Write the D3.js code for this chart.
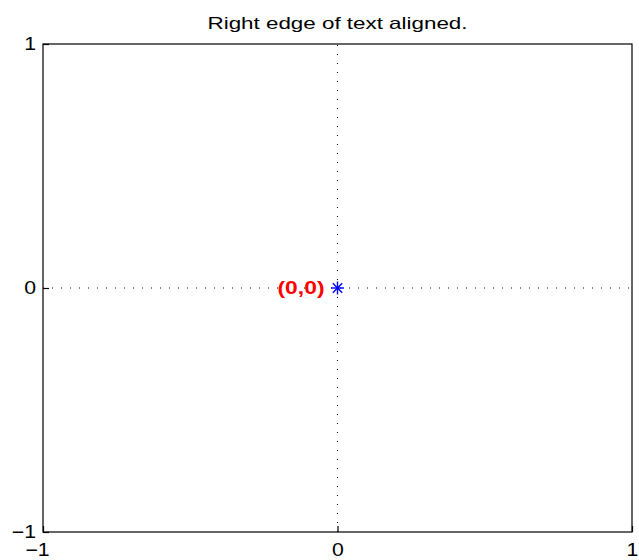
<!DOCTYPE html>
<html><head><meta charset="utf-8">
<script src="https://cdn.jsdelivr.net/npm/d3@7"></script>
<style>body{margin:0;background:#fff}svg{display:block}</style>
</head><body>
<script>
const xTicks = [-1, 0, 1];
const yTicks = [-1, 0, 1];
const points = [{x: 0, y: 0}];
const labels = [{x: 0, y: 0, text: "(0,0)"}];
const titleText = "Right edge of text aligned.";

const W = 639, H = 560;
const m = {l: 43, r: 7, t: 44, b: 28};
const FONT = "Liberation Sans, Arial, sans-serif";
const svg = d3.select("body").append("svg").attr("width", W).attr("height", H);
const x = d3.scaleLinear().domain([-1, 1]).range([m.l, W - m.r]);
const y = d3.scaleLinear().domain([-1, 1]).range([H - m.b, m.t]);

// grid lines at zero
svg.append("line").attr("x1", x(-1)).attr("x2", x(1)).attr("y1", y(0)).attr("y2", y(0))
  .attr("stroke", "#000").attr("stroke-width", 1).attr("stroke-dasharray", "1,8");
svg.append("line").attr("x1", x(0)).attr("x2", x(0)).attr("y1", y(-1)).attr("y2", y(1))
  .attr("stroke", "#000").attr("stroke-width", 1).attr("stroke-dasharray", "1,8");

// box
svg.append("rect").attr("x", x(-1)).attr("y", y(1)).attr("width", x(1) - x(-1)).attr("height", y(-1) - y(1))
  .attr("fill", "none").attr("stroke", "#000").attr("stroke-width", 1.2);

const fmt = d => d < 0 ? "\u2212" + Math.abs(d) : String(d);
const xa = svg.append("g").attr("transform", `translate(0,${y(-1)})`)
  .call(d3.axisBottom(x).tickValues(xTicks).tickSize(-6).tickPadding(11).tickFormat(fmt));
const ya = svg.append("g").attr("transform", `translate(${x(-1)},0)`)
  .call(d3.axisLeft(y).tickValues(yTicks).tickSize(-6).tickPadding(7).tickFormat(fmt));
[xa, ya].forEach(a => {
  a.select(".domain").remove();
  a.selectAll("line").attr("stroke-width", 1.2);
  a.selectAll("text").attr("font-family", FONT).attr("font-size", 18).attr("fill", "#000")
    .each(function() {
      const len = this.getComputedTextLength();
      d3.select(this).attr("textLength", len * 1.18).attr("lengthAdjust", "spacingAndGlyphs");
    });
});
xa.selectAll("text").attr("dy", "0.71em");
xa.selectAll(".tick").filter(d => d < 0).select("text").attr("dx", -6);

// star marker
points.forEach(p => {
  const cx = x(p.x), cy = y(p.y), r = 6.5;
  const g = svg.append("g").attr("stroke", "#0000ff").attr("stroke-width", 1.4);
  g.append("line").attr("x1", cx - r).attr("x2", cx + r).attr("y1", cy).attr("y2", cy);
  g.append("line").attr("x1", cx).attr("x2", cx).attr("y1", cy - r).attr("y2", cy + r);
  const d = r * 0.72;
  g.append("line").attr("x1", cx - d).attr("x2", cx + d).attr("y1", cy - d).attr("y2", cy + d);
  g.append("line").attr("x1", cx - d).attr("x2", cx + d).attr("y1", cy + d).attr("y2", cy - d);
});

labels.forEach(l => {
  svg.append("text").attr("x", x(l.x) - 13).attr("y", y(l.y)).attr("dy", "0.36em")
    .attr("text-anchor", "end").attr("font-family", FONT)
    .attr("font-weight", "bold").attr("font-size", 18).attr("fill", "#ff0000")
    .attr("textLength", 47).attr("lengthAdjust", "spacingAndGlyphs").text(l.text);
});

svg.append("text").attr("x", (x(-1) + x(1)) / 2).attr("y", 29).attr("text-anchor", "middle")
  .attr("font-family", FONT).attr("font-size", 16.5).attr("fill", "#000")
  .attr("textLength", 260).attr("lengthAdjust", "spacingAndGlyphs").text(titleText);
</script>
</body></html>
